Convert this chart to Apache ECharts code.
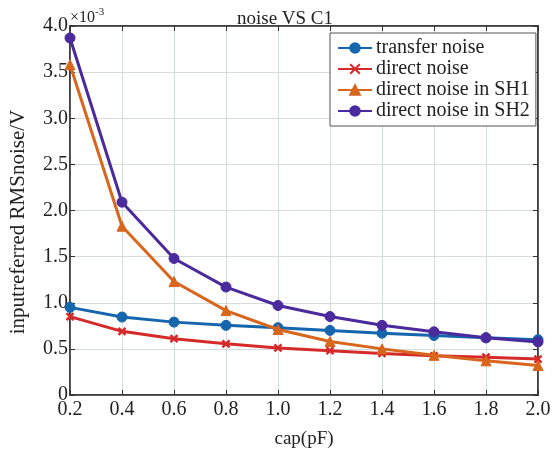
<!DOCTYPE html>
<html><head><meta charset="utf-8">
<script src="https://cdn.jsdelivr.net/npm/echarts@6/dist/echarts.min.js"></script>
<style>html,body{margin:0;padding:0;background:#fff}#c{width:552px;height:450px}</style>
</head><body><div id="c"></div>
<script>
const categories = [0.2, 0.4, 0.6, 0.8, 1.0, 1.2, 1.4, 1.6, 1.8, 2.0];
const seriesNames = ['transfer noise', 'direct noise', 'direct noise in SH1', 'direct noise in SH2'];
// values in units of 1e-3 V
const transferNoise = [0.95, 0.845, 0.79, 0.755, 0.73, 0.70, 0.67, 0.645, 0.62, 0.60];
const directNoise = [0.85, 0.69, 0.61, 0.555, 0.51, 0.48, 0.45, 0.425, 0.41, 0.39];
const directSH1 = [3.58, 1.83, 1.23, 0.915, 0.71, 0.58, 0.50, 0.43, 0.37, 0.32];
const directSH2 = [3.87, 2.09, 1.48, 1.17, 0.97, 0.85, 0.755, 0.685, 0.62, 0.575];
const yTicks = [0, 0.5, 1.0, 1.5, 2.0, 2.5, 3.0, 3.5, 4.0];

const colors = ['#1666ae', '#d62a2a', '#d8661c', '#4a2a9c'];
const symbols = ['circle', 'path://M0,0L10,10M10,0L0,10M0,0L10,10', 'triangle', 'circle'];
const font = 'Liberation Serif';
const allData = [transferNoise, directNoise, directSH1, directSH2];

const chart = echarts.init(document.getElementById('c'));
const axisCommon = {
  axisLine: {show: true, onZero: false, lineStyle: {color: '#333', width: 1.5}},
  axisTick: {show: true, inside: true, length: 5, lineStyle: {color: '#333'}},
  splitLine: {show: true, lineStyle: {color: '#d5dcdc', width: 1}}
};
chart.setOption({
  animation: false,
  backgroundColor: '#fff',
  title: {text: 'noise VS C1', left: 280, top: 5, textAlign: 'center',
    textStyle: {fontFamily: font, fontWeight: 'normal', fontSize: 19, color: '#222'}},
  graphic: [
    {type: 'text', left: 70, top: 7,
      style: {text: '{a|×10}{b|-3}', rich: {
        a: {fontFamily: font, fontSize: 16, fill: '#222', verticalAlign: 'bottom'},
        b: {fontFamily: font, fontSize: 11, fill: '#222', verticalAlign: 'top', padding: [0,0,8,0]}}}},
    {type: 'text', x: 18, y: 222, rotation: Math.PI / 2,
      style: {text: 'inputreferred RMSnoise/V', fontFamily: font, fontSize: 21, fill: '#222',
        align: 'center', verticalAlign: 'middle'}}
  ],
  legend: {
    orient: 'vertical', left: 330, top: 33,
    data: seriesNames,
    itemWidth: 34, itemHeight: 12, itemGap: 1,
    padding: [5, 6, 5, 7],
    backgroundColor: '#fff', borderColor: '#555', borderWidth: 1, borderRadius: 0,
    textStyle: {fontFamily: font, fontSize: 20, color: '#222', padding: [0,0,0,-1]}
  },
  grid: {left: 70, right: 14, top: 26, bottom: 55, containLabel: false,
    outerBoundsMode: 'none',
    show: true, borderColor: '#333', borderWidth: 1.5},
  xAxis: [{
    type: 'value', min: 0.2, max: 2.0, interval: 0.2, position: 'bottom',
    name: 'cap(pF)', nameLocation: 'middle', nameGap: 35,
    nameTextStyle: {fontFamily: font, fontSize: 19, color: '#222', verticalAlign: 'top'},
    axisLabel: {fontFamily: font, fontSize: 20, color: '#222', margin: 5,
      formatter: v => v.toFixed(1)},
    ...axisCommon
  }, {
    type: 'value', min: 0.2, max: 2.0, interval: 0.2, position: 'top',
    axisLabel: {show: false}, splitLine: {show: false},
    axisLine: axisCommon.axisLine, axisTick: axisCommon.axisTick
  }],
  yAxis: [{
    type: 'value', min: 0, max: 4, interval: 0.5, position: 'left',
    axisLabel: {fontFamily: font, fontSize: 20, color: '#222', margin: 2,
      formatter: v => v === 0 ? '0' : v.toFixed(1)},
    ...axisCommon
  }, {
    type: 'value', min: 0, max: 4, interval: 0.5, position: 'right',
    axisLabel: {show: false}, splitLine: {show: false},
    axisLine: axisCommon.axisLine, axisTick: axisCommon.axisTick
  }],
  series: seriesNames.map((n, i) => ({
    name: n, type: 'line', xAxisIndex: 0, yAxisIndex: 0,
    data: categories.map((c, j) => [c, allData[i][j]]),
    symbol: symbols[i], symbolSize: i === 1 ? 7 : 10,
    showAllSymbol: true,
    lineStyle: {width: 3, color: colors[i]},
    itemStyle: {color: colors[i], borderColor: colors[i], borderWidth: i === 1 ? 2.5 : 1},
    z: [3, 4, 5, 6][i]
  }))
});
</script></body></html>
